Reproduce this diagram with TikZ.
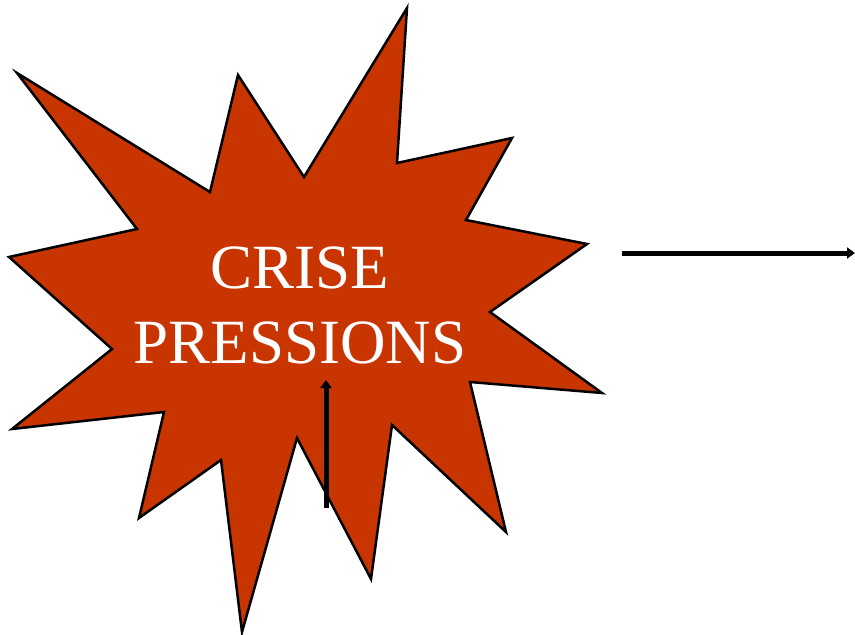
\documentclass[tikz,border=0pt]{standalone}
\usepackage{fontspec}
\setmainfont{Liberation Serif}
\usetikzlibrary{arrows.meta}
\definecolor{crisered}{RGB}{200,53,0}
\tikzset{
  starshape/.style={fill=crisered, draw=black, line width=2.5pt, line join=miter},
  bigarrow/.style={line width=5pt, -{Triangle[length=8pt,width=11pt]}},
  label/.style={text=white, font=\fontsize{63}{75}\selectfont, align=center, inner sep=0pt}
}
\begin{document}
\begin{tikzpicture}[x=1pt,y=-1pt]
\useasboundingbox (0,0) rectangle (855,635);
\draw[starshape] (17,73) -- (210,192) -- (238,75) -- (304,177) -- (407,8) -- (397,163)
  -- (512,138) -- (466,220) -- (587,244) -- (490,312) -- (602,393) -- (470,382)
  -- (506,532) -- (392,425) -- (371,579) -- (297,438) -- (242,632) -- (221,460)
  -- (139,518) -- (164,412) -- (12,429) -- (112,349) -- (9,257) -- (137,229) -- cycle;
\node[label, anchor=base] (crise) at (300,288) {CRISE};
\node[label, anchor=base] (pressions) at (300,363) {PRESSIONS};
\coordinate (vstart) at (326,508);
\coordinate (vend) at (326,380);
\draw[bigarrow] (vstart) -- (vend);
\coordinate (hstart) at (622,253);
\coordinate (hend) at (855,253);
\draw[bigarrow] (hstart) -- (hend);
\end{tikzpicture}
\end{document}
